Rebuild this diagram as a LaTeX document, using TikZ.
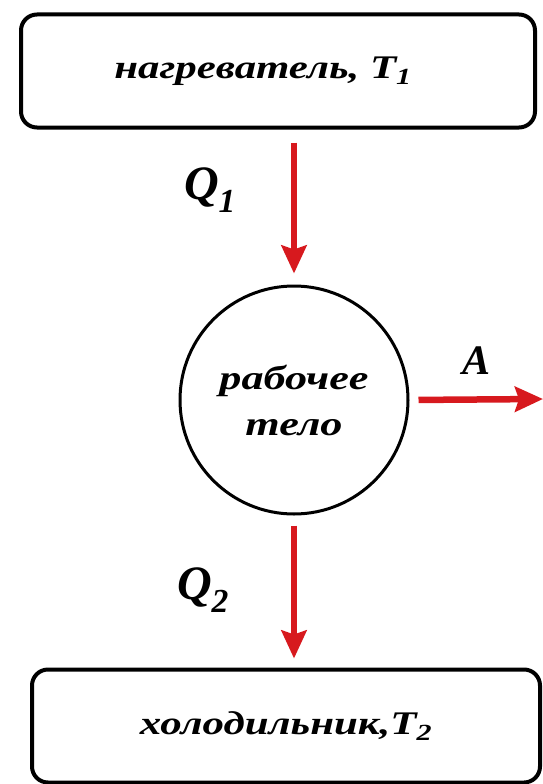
\documentclass[tikz,border=0pt]{standalone}
\usepackage{fontspec}
\setmainfont{Liberation Serif}
\newfontfamily\wideserif[FakeStretch=1.3]{Liberation Serif}
\usetikzlibrary{positioning,arrows.meta}
\definecolor{arrowred}{RGB}{215,25,30}

\begin{document}
\begin{tikzpicture}[
    x=1pt, y=-1pt,
    box/.style={rectangle, draw, line width=4pt, rounded corners=16pt, minimum width=514pt, minimum height=113pt, font=\wideserif\bfseries\itshape\fontsize{33}{35}\selectfont},
    body/.style={circle, draw, line width=3pt, minimum size=228pt, align=center, font=\wideserif\bfseries\itshape\fontsize{34}{46}\selectfont},
    flow/.style={draw=arrowred, line width=6.5pt, -{Stealth[length=28pt,width=25pt,inset=4pt]}},
    qlabel/.style={font=\bfseries\itshape\fontsize{48}{50}\selectfont}
]
    \useasboundingbox (0,0) rectangle (543,784);

    % Heater
    \node[box] (heater) at (278,71) {\hspace*{-30pt}нагреватель, T\textsubscript{1}};

    % Working body
    \node[body] (body) at (294,400) {рабочее\\тело};

    % Cooler
    \node[box, minimum width=508pt] (cooler) at (286,726) {холодильник,T\textsubscript{2}};

    % Free end of the work arrow
    \coordinate (out) at (543,399);

    % Edges
    \draw[flow, shorten <=13pt, shorten >=11pt] (heater.south -| body.north) -- (body.north);
    \draw[flow, shorten <=9pt] (body.east) -- (out);
    \draw[flow, shorten <=10pt, shorten >=9pt] (body.south) -- (body.south |- cooler.north);

    % Labels
    \node[qlabel] (q1) at (210,190) {Q\textsubscript{1}};
    \node[qlabel] (q2) at (203,590) {Q\textsubscript{2}};
    \node[qlabel, font=\bfseries\itshape\fontsize{42}{44}\selectfont] (work) at (477,361) {A};
\end{tikzpicture}
\end{document}
